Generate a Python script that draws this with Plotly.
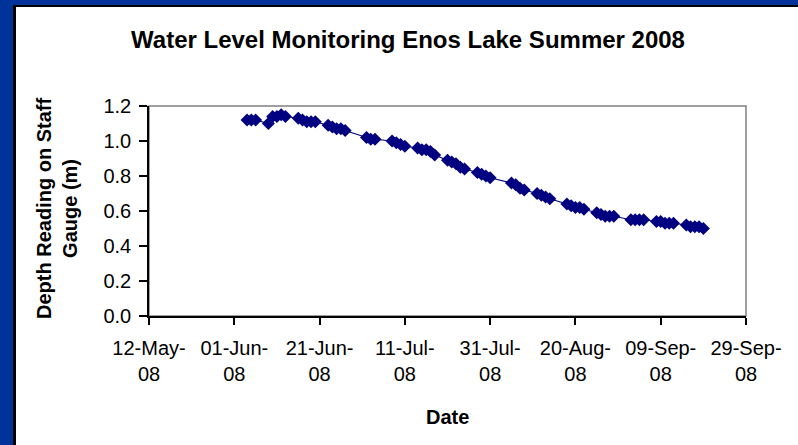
import plotly.graph_objects as go

# ---- data ----
dates = [
    "2008-06-04", "2008-06-05", "2008-06-06",
    "2008-06-09", "2008-06-10", "2008-06-11", "2008-06-12", "2008-06-13",
    "2008-06-16", "2008-06-17", "2008-06-18", "2008-06-19", "2008-06-20",
    "2008-06-23", "2008-06-24", "2008-06-25", "2008-06-26", "2008-06-27",
    "2008-07-02", "2008-07-03", "2008-07-04",
    "2008-07-08", "2008-07-09", "2008-07-10", "2008-07-11",
    "2008-07-14", "2008-07-15", "2008-07-16", "2008-07-17", "2008-07-18",
    "2008-07-21", "2008-07-22", "2008-07-23", "2008-07-24", "2008-07-25",
    "2008-07-28", "2008-07-29", "2008-07-30", "2008-07-31",
    "2008-08-05", "2008-08-06", "2008-08-07", "2008-08-08",
    "2008-08-11", "2008-08-12", "2008-08-13", "2008-08-14",
    "2008-08-18", "2008-08-19", "2008-08-20", "2008-08-21", "2008-08-22",
    "2008-08-25", "2008-08-26", "2008-08-27", "2008-08-28", "2008-08-29",
    "2008-09-02", "2008-09-03", "2008-09-04", "2008-09-05",
    "2008-09-08", "2008-09-09", "2008-09-10", "2008-09-11", "2008-09-12",
    "2008-09-15", "2008-09-16", "2008-09-17", "2008-09-18", "2008-09-19",
]
depth = [
    1.12, 1.12, 1.12,
    1.10, 1.14, 1.14, 1.15, 1.14,
    1.13, 1.12, 1.11, 1.11, 1.11,
    1.09, 1.08, 1.07, 1.07, 1.06,
    1.02, 1.01, 1.01,
    1.00, 0.99, 0.98, 0.97,
    0.96, 0.95, 0.95, 0.94, 0.92,
    0.89, 0.88, 0.87, 0.85, 0.84,
    0.82, 0.81, 0.80, 0.79,
    0.76, 0.75, 0.73, 0.72,
    0.70, 0.69, 0.68, 0.67,
    0.64, 0.63, 0.62, 0.62, 0.61,
    0.59, 0.58, 0.57, 0.57, 0.57,
    0.55, 0.55, 0.55, 0.55,
    0.54, 0.54, 0.53, 0.53, 0.53,
    0.52, 0.51, 0.51, 0.51, 0.50,
]
tick_dates = ["2008-05-12", "2008-06-01", "2008-06-21", "2008-07-11",
              "2008-07-31", "2008-08-20", "2008-09-09", "2008-09-29"]
tick_text = ["12-May-<br>08", "01-Jun-<br>08", "21-Jun-<br>08", "11-Jul-<br>08",
             "31-Jul-<br>08", "20-Aug-<br>08", "09-Sep-<br>08", "29-Sep-<br>08"]

title_text = "Water Level Monitoring Enos Lake Summer 2008"
x_title = "Date"
y_title = "Depth Reading on Staff<br>Gauge (m)"

# ---- layout geometry (pixels) ----
W, H = 798, 445
L, R, T, B = 149, 52, 106, 129
pw, ph = W - L - R, H - T - B


def px(x):
    return (x - L) / pw


def py(y):
    return (H - B - y) / ph


NAVY = "#000080"
FONT = "Liberation Sans, Arial, sans-serif"

fig = go.Figure()
fig.add_trace(go.Scatter(
    x=dates, y=depth, mode="lines+markers",
    line=dict(color=NAVY, width=1.2),
    marker=dict(symbol="diamond", size=10, color=NAVY),
    showlegend=False,
))

shapes = [
    dict(type="rect", xref="paper", yref="paper", x0=px(13), x1=px(802), y0=py(449), y1=py(5),
         fillcolor="#000000", line=dict(width=0), layer="below"),
    dict(type="rect", xref="paper", yref="paper", x0=px(16), x1=px(802), y0=py(449), y1=py(7),
         fillcolor="#ffffff", line=dict(width=0), layer="below"),
    dict(type="rect", xref="paper", yref="paper", x0=0, x1=1, y0=0, y1=1,
         line=dict(color="#808080", width=1.5), fillcolor="rgba(0,0,0,0)", layer="below"),
]

annotations = [
    dict(text="<b>" + x_title + "</b>", xref="paper", yref="paper",
         x=px(447), y=py(417), xanchor="center", yanchor="middle", showarrow=False,
         font=dict(size=20, family=FONT, color="#000000")),
    dict(text="<b>" + y_title + "</b>", xref="paper", yref="paper",
         x=px(57), y=py(209), xanchor="center", yanchor="middle", showarrow=False,
         textangle=-90, font=dict(size=20, family=FONT, color="#000000")),
]

fig.update_layout(
    width=W, height=H,
    margin=dict(l=L, r=R, t=T, b=B),
    paper_bgcolor="#003399",
    plot_bgcolor="#ffffff",
    shapes=shapes,
    annotations=annotations,
    font=dict(family=FONT, color="#000000", size=20),
    title=dict(text="<b>" + title_text + "</b>", font=dict(size=24, family=FONT),
               x=408 / W, xanchor="center", y=1 - 40 / H, yanchor="middle"),
    xaxis=dict(
        type="date", range=["2008-05-12", "2008-09-29"],
        tickvals=tick_dates, ticktext=tick_text,
        showgrid=False, zeroline=False,
        showline=True, linecolor="#000000", linewidth=1.5,
        ticks="outside", ticklen=7, tickcolor="#000000", tickwidth=1.5,
        tickfont=dict(size=20, family=FONT),
        ticklabelstandoff=6,
    ),
    yaxis=dict(
        range=[0, 1.2], dtick=0.2, tickformat=".1f",
        showgrid=False, zeroline=False,
        showline=True, linecolor="#000000", linewidth=1.5,
        ticks="outside", ticklen=8, tickcolor="#000000", tickwidth=1.5,
        tickfont=dict(size=20, family=FONT),
        ticklabelstandoff=4,
    ),
)

fig.write_html("out.html", config={"displayModeBar": False},
               post_script="document.body.style.margin='0px';document.body.style.overflow='hidden';")
